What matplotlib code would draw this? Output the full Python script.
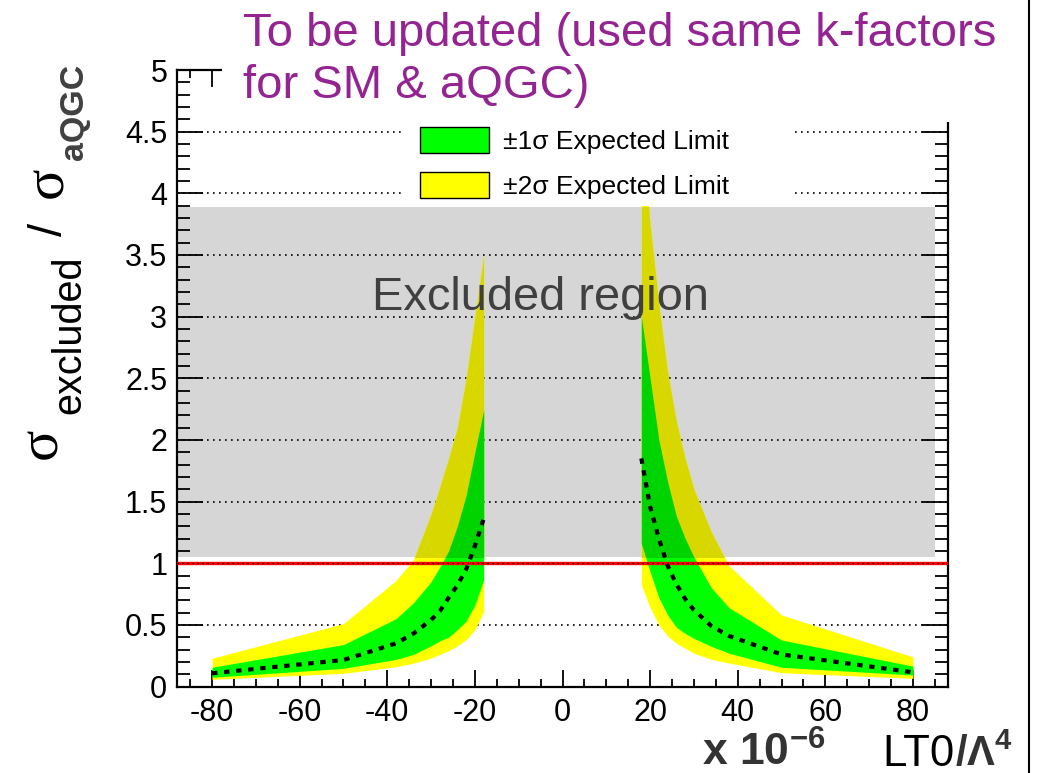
import matplotlib
matplotlib.use('Agg')
import matplotlib.pyplot as plt
from matplotlib.patches import Rectangle, Patch
from matplotlib.lines import Line2D
from matplotlib.ticker import MultipleLocator

plt.rcParams['font.family'] = ['Liberation Sans', 'DejaVu Sans']
plt.rcParams['axes.unicode_minus'] = False
plt.rcParams['mathtext.fontset'] = 'custom'
plt.rcParams['mathtext.rm'] = 'Liberation Sans'
plt.rcParams['mathtext.bf'] = 'Liberation Sans:bold'
plt.rcParams['mathtext.it'] = 'Liberation Sans:italic'

# expected limits, negative LT0 side
x_neg = [-80, -50, -38, -34, -30, -28, -26, -24, -22, -20, -18]
med_neg = [0.107, 0.215, 0.35, 0.43, 0.54, 0.61, 0.72, 0.82, 0.95, 1.14, 1.36]
up1_neg = [0.156, 0.34, 0.55, 0.68, 0.85, 0.97, 1.10, 1.30, 1.55, 1.90, 2.24]
lo1_neg = [0.075, 0.147, 0.22, 0.26, 0.33, 0.37, 0.40, 0.46, 0.53, 0.66, 0.864]
up2_neg = [0.229, 0.51, 0.86, 1.03, 1.40, 1.62, 1.85, 2.10, 2.50, 3.00, 3.50]
lo2_neg = [0.058, 0.107, 0.16, 0.19, 0.23, 0.26, 0.29, 0.33, 0.38, 0.46, 0.607]

# expected limits, positive LT0 side
x_pos = [18, 20, 22, 24, 26, 28, 30, 34, 38, 50, 80]
med_pos = [1.85, 1.46, 1.20, 0.98, 0.83, 0.71, 0.62, 0.49, 0.41, 0.26, 0.115]
up1_pos = [3.00, 2.50, 2.00, 1.66, 1.38, 1.20, 1.05, 0.80, 0.64, 0.377, 0.165]
lo1_pos = [1.16, 0.93, 0.72, 0.58, 0.48, 0.43, 0.39, 0.325, 0.27, 0.156, 0.093]
up2_pos = [4.60, 3.75, 3.10, 2.55, 2.15, 1.85, 1.60, 1.25, 0.98, 0.58, 0.24]
lo2_pos = [0.823, 0.64, 0.50, 0.41, 0.35, 0.31, 0.27, 0.22, 0.19, 0.112, 0.066]

excl_lo, excl_hi = 1.05, 3.89
grid_y = [0.5, 1.0, 1.5, 2.0, 2.5, 3.0, 3.5, 4.0, 4.5]
ytick_vals = [0, 0.5, 1, 1.5, 2, 2.5, 3, 3.5, 4, 4.5, 5]
ytick_labels = ['0', '0.5', '1', '1.5', '2', '2.5', '3', '3.5', '4', '4.5', '5']
xtick_vals = [-80, -60, -40, -20, 0, 20, 40, 60, 80]

W, H = 1038, 773
fig = plt.figure(figsize=(W / 100, H / 100), dpi=100)
ax = fig.add_axes([177 / W, 1 - 686.5 / H, (948 - 177) / W, (686.5 - 70) / H])
ax.set_xlim(-88, 88)
ax.set_ylim(0, 5)

# excluded region
gray = Rectangle((-88, excl_lo), 173, excl_hi - excl_lo, facecolor='#d6d6d6',
                 edgecolor='none', zorder=0.5)
ax.add_patch(gray)
ax.hlines(grid_y, -88, 88, colors='k', linestyles=(0, (1, 2.6)), lw=1.2, zorder=1)

for xs, lo2, up2, lo1, up1 in [(x_neg, lo2_neg, up2_neg, lo1_neg, up1_neg),
                               (x_pos, lo2_pos, up2_pos, lo1_pos, up1_pos)]:
    ax.fill_between(xs, lo2, up2, color='#ffff00', lw=0, zorder=2)
    ax.fill_between(xs, lo1, up1, color='#00ff00', lw=0, zorder=2.1)
    # darker shade where the bands sit inside the excluded box
    c2 = ax.fill_between(xs, lo2, up2, color='#d8d800', lw=0, zorder=2.2)
    c1 = ax.fill_between(xs, lo1, up1, color='#00d400', lw=0, zorder=2.3)
    c2.set_clip_path(gray)
    c1.set_clip_path(gray)

ax.axhline(1.0, color='#ff0000', lw=2.4, zorder=3)
ax.axhline(1.0, color='k', lw=1.0, ls=(0, (1, 2.6)), zorder=3.1)

ax.plot(x_neg, med_neg, color='k', lw=3.0, ls=(0, (1.3, 1.6)), zorder=4)
ax.plot(x_pos, med_pos, color='k', lw=3.0, ls=(0, (1.3, 1.6)), zorder=4)

ax.text(-43.5, 3.05, 'Excluded region', fontsize=33.8, color='#404040', zorder=4)

# legend with its own white box
ax.add_patch(Rectangle(((405 - 177) / 771, (686.5 - 206) / 616.5), (793 - 405) / 771,
                       (206 - 115) / 616.5, transform=ax.transAxes,
                       facecolor='white', edgecolor='none', zorder=5))
handles = [Patch(facecolor='#00ff00', edgecolor='k', lw=1.0),
           Patch(facecolor='#ffff00', edgecolor='k', lw=1.0)]
leg = ax.legend(handles, ['±1σ Expected Limit', '±2σ Expected Limit'],
                loc='upper left', bbox_to_anchor=(420 / W, 1 - 127 / H),
                bbox_transform=fig.transFigure, frameon=False, fontsize=19,
                handlelength=2.6, handleheight=1.15, labelspacing=0.68,
                handletextpad=0.55, borderpad=0, borderaxespad=0)
leg.set_zorder(6)

ax.set_yticks(ytick_vals)
ax.set_yticklabels(ytick_labels)
ax.set_xticks(xtick_vals)
ax.set_xticklabels([str(v) for v in xtick_vals])
ax.yaxis.set_minor_locator(MultipleLocator(0.1))
ax.xaxis.set_minor_locator(MultipleLocator(5))
ax.tick_params(axis='y', which='major', direction='in', length=19, width=1.3,
               left=True, right=True, labelsize=22, pad=7)
ax.tick_params(axis='y', which='minor', direction='in', length=9.5, width=1.3,
               left=True, right=True)
ax.tick_params(axis='x', which='major', direction='in', length=12, width=1.3,
               top=True, bottom=True, labelsize=22, pad=8)
ax.tick_params(axis='x', which='minor', direction='in', length=5.5, width=1.3,
               top=True, bottom=True)
for s in ax.spines.values():
    s.set_linewidth(1.6)

# white box behind the note at the top
fig.add_artist(Rectangle((222 / W, 1 - 122 / H), (1000 - 222) / W, 122 / H,
                         transform=fig.transFigure, facecolor='white',
                         edgecolor='none', zorder=5))
fig.text(243 / W, 1 - 46 / H, 'To be updated (used same k-factors', fontsize=34,
         color='#942491', va='baseline', zorder=6)
fig.text(243 / W, 1 - 98 / H, 'for SM & aQGC)', fontsize=34,
         color='#942491', va='baseline', zorder=6)

# y axis title, built piece by piece
yl = dict(rotation=90, rotation_mode='anchor', ha='left', va='baseline')
fig.text(56 / W, 1 - 459 / H, 'σ', fontsize=42, family='Liberation Serif', **yl)
fig.text(80 / W, 1 - 414 / H, 'excluded', fontsize=28.5, **yl)
fig.text(62 / W, 1 - 236 / H, '/', fontsize=34, **yl)
fig.text(62 / W, 1 - 198 / H, 'σ', fontsize=42, family='Liberation Serif', **yl)
fig.text(83 / W, 1 - 160 / H, 'aQGC', fontsize=24.5, fontweight='bold', color='#404040', **yl)

# x axis title
fig.text(702 / W, 1 - 766 / H, r'$\mathbf{x\ 10^{-6}}$', fontsize=32, color='#333333',
         va='baseline')
fig.text(882 / W, 1 - 766 / H, 'LT0', fontsize=31.5, va='baseline')
fig.text(955 / W, 1 - 766 / H, r'$\mathbf{/\Lambda^{4}}$', fontsize=30, color='#333333',
         va='baseline')

fig.add_artist(Line2D([1029 / W, 1029 / W], [0, 1], transform=fig.transFigure,
                      color='k', lw=1.5))

fig.savefig('out.png', dpi=100)
